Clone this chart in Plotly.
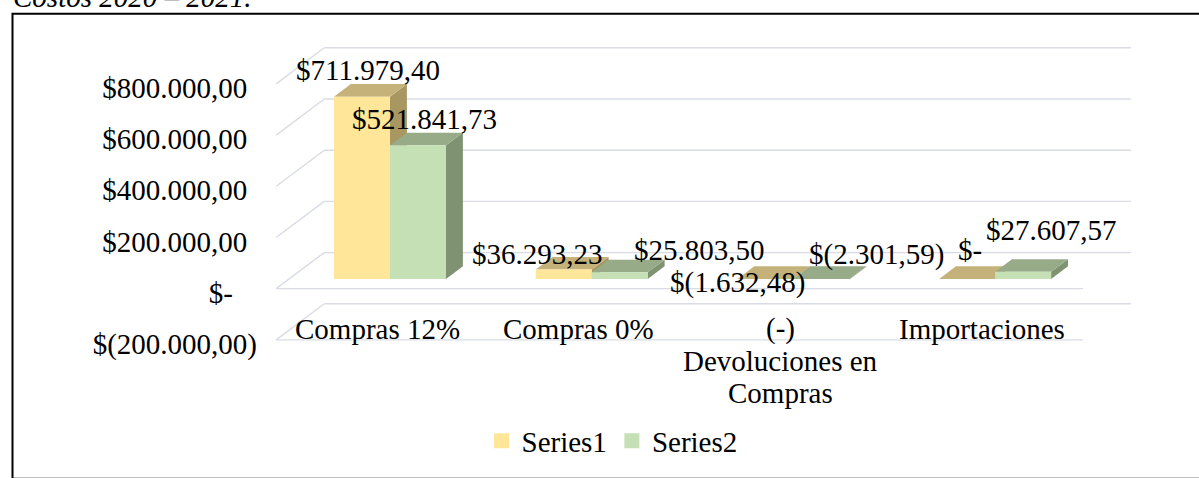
import textwrap
import plotly.graph_objects as go

# ---------------- data ----------------
categories = ["Compras 12%", "Compras 0%", "(-) Devoluciones en Compras", "Importaciones"]
series_names = ["Series1", "Series2"]
series1 = [711979.40, 36293.23, -1632.48, 0.0]
series2 = [521841.73, 25803.50, -2301.59, 27607.57]
y_ticks = [-200000, 0, 200000, 400000, 600000, 800000]
caption = "Costos 2020 – 2021."

# ---------------- style / geometry ----------------
W, H = 1199, 478
PL, PR, PT, PB = 258, 1150, 40, 362       # plot area in pixels
X0PX = 377.0                              # pixel of category 0 (front plane)
DXPX = 201.7                              # pixels per category
YPX = 0.2625 / 1000                       # pixels per value unit
Y0PX = 295.0                              # pixel of value 0 on front plane
SLANT = 1.3                               # horizontal px per px of depth
Z_BAR_F, Z_BAR_B, Z_WALL = 10, 23, 37     # depths (px of vertical rise)
BW = 56 / DXPX                            # bar width in category units
FONT = "Times New Roman, Liberation Serif, serif"
FS = 29

front_cols = ["#FFE699", "#C5E0B4"]
top_cols = ["#C5B27A", "#97AB88"]
side_cols = ["#A99762", "#7F9272"]
grid_col = "#D9DCE4"

# data-label pixel offsets (dx, dy up) relative to bar top-back centre
label_offsets = [
    [(-11, 14), (-43, 3), (-45, -16), (-14, 16)],
    [(-10, 14), (63, 10), (38, 12), (11, 29)],
]

xr = [(PL - X0PX) / DXPX, (PR - X0PX) / DXPX]
yr = [(Y0PX - PB) / YPX, (Y0PX - PT) / YPX]


def proj(x, v, z):
    return x + z * SLANT / DXPX, v + z / YPX


def fmt(v):
    if abs(v) < 0.005:
        return "$-"
    s = f"{abs(v):,.2f}".replace(",", "X").replace(".", ",").replace("X", ".")
    return f"$({s})" if v < 0 else f"${s}"


def px2paper_x(px):
    return (px - PL) / (PR - PL)


def px2paper_y(py):
    return (PB - py) / (PB - PT)


fig = go.Figure()

# ---------------- walls / gridlines ----------------
n = len(categories)
xl, xrgt = -0.5, n - 0.5
gx, gy = [], []
for v in y_ticks:
    for (a, b) in [((xl, v, 0), (xl, v, Z_WALL)), ((xl, v, Z_WALL), (xrgt, v, Z_WALL))]:
        p1, p2 = proj(*a), proj(*b)
        gx += [p1[0], p2[0], None]
        gy += [p1[1], p2[1], None]
for v in [0, min(y_ticks)]:
    p1, p2 = proj(xl, v, 0), proj(xrgt, v, 0)
    gx += [p1[0], p2[0], None]
    gy += [p1[1], p2[1], None]
fig.add_trace(go.Scatter(x=gx, y=gy, mode="lines", line=dict(color=grid_col, width=1.4),
                         hoverinfo="skip", showlegend=False))


def poly(points, color):
    xs = [p[0] for p in points] + [points[0][0]]
    ys = [p[1] for p in points] + [points[0][1]]
    fig.add_trace(go.Scatter(x=xs, y=ys, mode="lines", fill="toself", fillcolor=color,
                             line=dict(width=0, color=color), hoverinfo="skip",
                             showlegend=False))


series = [series1, series2]
annotations = []
for i in range(n):
    for s, vals in enumerate(series):
        v = vals[i]
        x0 = i - BW + s * BW
        x1 = x0 + BW
        lo, hi = min(0, v), max(0, v)
        side = [proj(x1, lo, Z_BAR_F), proj(x1, hi, Z_BAR_F), proj(x1, hi, Z_BAR_B), proj(x1, lo, Z_BAR_B)]
        top = [proj(x0, hi, Z_BAR_F), proj(x1, hi, Z_BAR_F), proj(x1, hi, Z_BAR_B), proj(x0, hi, Z_BAR_B)]
        front = [proj(x0, lo, Z_BAR_F), proj(x1, lo, Z_BAR_F), proj(x1, hi, Z_BAR_F), proj(x0, hi, Z_BAR_F)]
        poly(side, side_cols[s])
        poly(top, top_cols[s])
        poly(front, front_cols[s])
        ax, ay = proj((x0 + x1) / 2, hi, Z_BAR_B)
        dx, dy = label_offsets[s][i]
        annotations.append(dict(x=ax, y=ay, xref="x", yref="y", text=fmt(v), showarrow=False,
                                xanchor="center", yanchor="middle", xshift=dx, yshift=dy,
                                font=dict(family=FONT, size=FS, color="black")))

# category labels (front plane)
for i, c in enumerate(categories):
    for k, line in enumerate(textwrap.wrap(c, 15)):
        annotations.append(dict(x=i, y=0, xref="x", yref="y", text=line, showarrow=False,
                                xanchor="center", yanchor="middle", yshift=-40 - 32 * k,
                                font=dict(family=FONT, size=FS, color="black")))

# caption (cut off at the top, as in the source)
annotations.append(dict(x=px2paper_x(11), y=px2paper_y(-4), xref="paper", yref="paper",
                        text="<i>" + caption + "</i>", showarrow=False, xanchor="left",
                        yanchor="middle", font=dict(family=FONT, size=FS, color="black")))

# legend proxies
for s, name in enumerate(series_names):
    fig.add_trace(go.Scatter(x=[None], y=[None], mode="markers", name=name,
                             marker=dict(symbol="square", size=15, color=front_cols[s])))

fig.update_layout(
    width=W, height=H,
    margin=dict(l=PL, r=W - PR, t=PT, b=H - PB),
    paper_bgcolor="white", plot_bgcolor="white",
    showlegend=True,
    legend=dict(orientation="h", x=px2paper_x(612), y=px2paper_y(451), xanchor="center",
                yanchor="middle", font=dict(family=FONT, size=FS, color="black"),
                bgcolor="rgba(0,0,0,0)"),
    xaxis=dict(range=xr, visible=False, fixedrange=True),
    yaxis=dict(range=yr, tickvals=y_ticks,
               ticktext=[fmt(v) + ("\u2002\u2004" if v == 0 else ("" if v < 0 else "\u2004")) for v in y_ticks],
               showgrid=False, zeroline=False, showline=False, ticks="",
               ticklabelshift=4,
               tickfont=dict(family=FONT, size=FS, color="black"), fixedrange=True),
    annotations=annotations,
    shapes=[dict(type="rect", xref="paper", yref="paper",
                 x0=px2paper_x(12.5), x1=px2paper_x(1210), y0=px2paper_y(490), y1=px2paper_y(13),
                 line=dict(color="black", width=2), fillcolor="rgba(0,0,0,0)", layer="above")],
)

fig.write_html("out.html", config={"displayModeBar": False},
               post_script="document.body.style.margin='0';document.body.style.padding='0';")
